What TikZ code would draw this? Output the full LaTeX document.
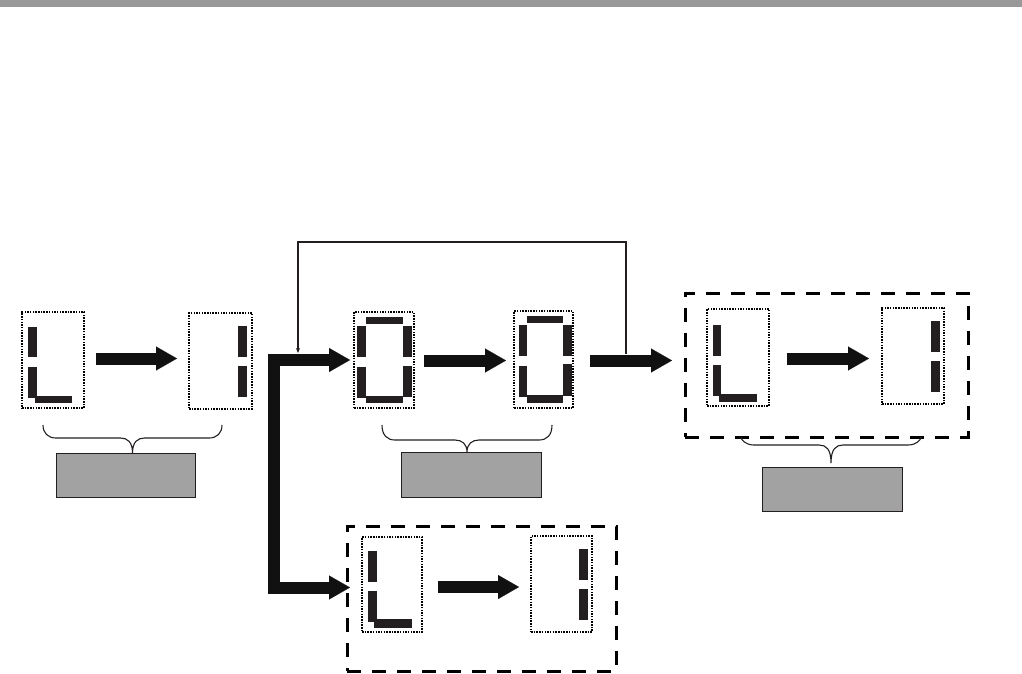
\documentclass[tikz,border=0pt]{standalone}
\usetikzlibrary{arrows.meta}
\definecolor{segc}{HTML}{231F20}
\definecolor{arrc}{HTML}{111111}
\definecolor{barc}{HTML}{999999}
\definecolor{grayc}{HTML}{A2A2A2}
\newcommand\myseg[4]{\fill[segc] (#1,#2) rectangle (#3,#4);}
\newcommand\mybrace[5]{%
  \pgfmathsetmacro\bxm{(#1+#2)/2}%
  \draw[bracestyle] (#1,#3) .. controls (#1,{#4-5}) and ({#1+5},#4) .. ({#1+13},#4) -- ({\bxm-12},#4)
    .. controls ({\bxm-5},#4) and (\bxm,{#4+4}) .. (\bxm,#5) .. controls (\bxm,{#4+4}) and ({\bxm+5},#4) .. ({\bxm+12},#4)
    -- ({#2-13},#4) .. controls ({#2-5},#4) and (#2,{#4-5}) .. (#2,#3);}
\tikzset{
  dispbox/.style={draw=black, line width=1.5pt, dash pattern=on 1.5pt off 1.2pt, inner sep=0pt, outer sep=0pt},
  groupbox/.style={draw=black, line width=3pt, dash pattern=on 14pt off 11pt, inner sep=0pt, outer sep=0pt},
  labelbox/.style={draw=segc, line width=0.9pt, fill=grayc, inner sep=0pt, outer sep=0pt, minimum width=140pt, minimum height=44pt},
  fat/.style={draw=arrc, line width=12pt, -{Triangle[length=21pt,width=24pt,line width=0.1pt]}},
  fatL/.style={draw=arrc, line width=12pt, line join=miter, {Triangle[length=21pt,width=24pt,line width=0.1pt]}-{Triangle[length=21pt,width=24pt,line width=0.1pt]}},
  fb/.style={draw=segc, line width=1.3pt, -{Stealth[length=5pt,width=4pt]}},
  bracestyle/.style={draw=segc, line width=1.1pt}
}
\begin{document}
\begin{tikzpicture}[x=1pt,y=-1pt]
\useasboundingbox (0,0) rectangle (1022,673);
% top bar
\fill[barc] (0,0) rectangle (1022,7);

% display boxes
\node[dispbox, minimum width=62pt, minimum height=96pt] (b1) at (53,360) {};
\node[dispbox, minimum width=63pt, minimum height=96pt] (b2) at (220.5,361) {};
\node[dispbox, minimum width=60pt, minimum height=96pt] (b3) at (384,360) {};
\node[dispbox, minimum width=59pt, minimum height=97pt] (b4) at (543.5,359.5) {};
\node[dispbox, minimum width=62pt, minimum height=97pt] (b5) at (738,357.5) {};
\node[dispbox, minimum width=62pt, minimum height=96pt] (b6) at (913,356) {};
\node[dispbox, minimum width=60pt, minimum height=95pt] (b7) at (392,584.5) {};
\node[dispbox, minimum width=61pt, minimum height=96pt] (b8) at (561.5,584) {};

% group boxes
\node[groupbox, minimum width=283pt, minimum height=144pt] (g1) at (826.5,365) {};
\node[groupbox, minimum width=269pt, minimum height=145pt] (g2) at (481.5,598.5) {};

% segments
\myseg{28}{327}{37}{357}\myseg{28}{367}{37}{398}\myseg{35}{396}{72}{403}
\myseg{238}{326}{247}{357}\myseg{238}{366}{247}{397}
\myseg{366}{317}{403}{324}\myseg{357}{326}{366}{357}\myseg{357}{367}{366}{398}
\myseg{403}{326}{412}{357}\myseg{403}{366}{412}{397}\myseg{366}{396}{403}{403}
\myseg{527}{316}{563}{323}\myseg{519}{325}{527}{356}\myseg{519}{366}{527}{397}
\myseg{563}{325}{572}{356}\myseg{563}{364}{572}{396}\myseg{527}{395}{563}{403}
\myseg{713}{325}{721}{356}\myseg{713}{365}{721}{396}\myseg{719}{394}{757}{402}
\myseg{931}{321}{940}{352}\myseg{931}{361}{940}{392}
\myseg{368}{551}{377}{582}\myseg{368}{591}{377}{622}\myseg{374}{619}{412}{628}
\myseg{579}{549}{588}{580}\myseg{579}{589}{588}{620}

% arrow end coordinates
\coordinate (a1s) at (96,358.5);  \coordinate (a1e) at (177,358.5);
\coordinate (a2s) at (424,360.5); \coordinate (a2e) at (506,360.5);
\coordinate (a3s) at (590,360.5); \coordinate (a3e) at (672,360.5);
\coordinate (a4s) at (787,358.5); \coordinate (a4e) at (869,358.5);
\coordinate (a5s) at (438,587);   \coordinate (a5e) at (519,587);
\coordinate (lt) at (350,360);    \coordinate (lb) at (350,587.5);
\coordinate (lc1) at (273.5,360); \coordinate (lc2) at (273.5,587.5);
\coordinate (fs) at (626,354);    \coordinate (fe) at (298,353);
\coordinate (fk) at (626,242);

% fat arrows
\draw[fat] (a1s) -- (a1e);
\draw[fat] (a2s) -- (a2e);
\draw[fat] (a3s) -- (a3e);
\draw[fat] (a4s) -- (a4e);
\draw[fat] (a5s) -- (a5e);
\draw[fatL] (lt) -- (lc1) -- (lc2) -- (lb);

% feedback line
\draw[fb] (fs) -- (fk) -| (fe);

% braces
\mybrace{43}{222}{425}{438}{453}
\mybrace{382}{552}{425}{440}{452}
\mybrace{741}{921}{437}{445}{463}

% label boxes
\node[labelbox, minimum width=139pt] (l1) at (125.5,475) {};
\node[labelbox, minimum height=45pt] (l2) at (471,474.5) {};
\node[labelbox] (l3) at (832,489) {};
\end{tikzpicture}
\end{document}
